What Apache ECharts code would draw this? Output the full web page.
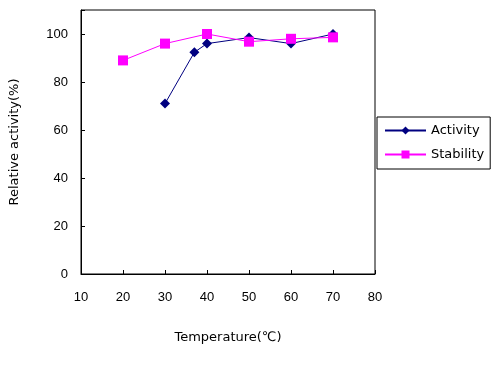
<!DOCTYPE html>
<html><head><meta charset="utf-8">
<script src="https://cdn.jsdelivr.net/npm/echarts@6/dist/echarts.min.js"></script>
<style>html,body{margin:0;padding:0;background:#fff}#c{width:503px;height:366px}</style>
</head><body><div id="c"></div>
<script>
const activityX = [30, 37, 40, 50, 60, 70];
const activityY = [71, 92.4, 96, 98.5, 96, 100];
const stabilityX = [20, 30, 40, 50, 60, 70];
const stabilityY = [89, 96, 100, 96.8, 98, 98.6];
const seriesNames = ['Activity', 'Stability'];
const xTitle = 'Temperature(℃)';
const yTitle = 'Relative activity(%)';

const font = 'Liberation Sans, Arial, sans-serif';
const font2 = 'DejaVu Sans, sans-serif';
const chart = echarts.init(document.getElementById('c'), null, {renderer: 'canvas'});
chart.setOption({
  animation: false,
  backgroundColor: '#fff',
  grid: {left: 81, top: 10, width: 294, height: 264, show: true, borderColor: '#000', borderWidth: 1},
  xAxis: {
    type: 'value', min: 10, max: 80, interval: 10,
    name: xTitle, nameLocation: 'middle', nameGap: 57,
    nameTextStyle: {color: '#000', fontFamily: font2, fontSize: 13},
    axisLine: {lineStyle: {color: '#000', width: 1}},
    axisTick: {inside: true, length: 4, lineStyle: {color: '#000'}},
    axisLabel: {color: '#000', fontFamily: font, fontSize: 13, margin: 17},
    splitLine: {show: false}
  },
  yAxis: {
    type: 'value', min: 0, max: 110, interval: 20,
    name: yTitle, nameLocation: 'middle', nameGap: 60, nameRotate: 90,
    nameTextStyle: {color: '#000', fontFamily: font2, fontSize: 13},
    axisLine: {lineStyle: {color: '#000', width: 1}},
    axisTick: {inside: true, length: 4, lineStyle: {color: '#000'}},
    axisLabel: {color: '#000', fontFamily: font, fontSize: 13, margin: 13,
      formatter: v => (v > 100 ? '' : String(v))},
    splitLine: {show: false}
  },
  legend: {
    left: 377, top: 117, orient: 'vertical',
    borderColor: '#000', borderWidth: 1, padding: [7, 6, 8, 7],
    itemGap: 11, itemWidth: 41, itemHeight: 10,
    textStyle: {color: '#000', fontFamily: font2, fontSize: 13},
    data: seriesNames
  },
  series: [
    {
      name: seriesNames[0], type: 'line',
      data: activityX.map((x, i) => [x, activityY[i]]),
      symbol: 'diamond', symbolSize: 10,
      lineStyle: {color: '#000080', width: 1},
      itemStyle: {color: '#000080'}
    },
    {
      name: seriesNames[1], type: 'line',
      data: stabilityX.map((x, i) => [x, stabilityY[i]]),
      symbol: 'rect', symbolSize: 10,
      lineStyle: {color: '#ff00ff', width: 1},
      itemStyle: {color: '#ff00ff'}
    }
  ]
});
</script></body></html>
